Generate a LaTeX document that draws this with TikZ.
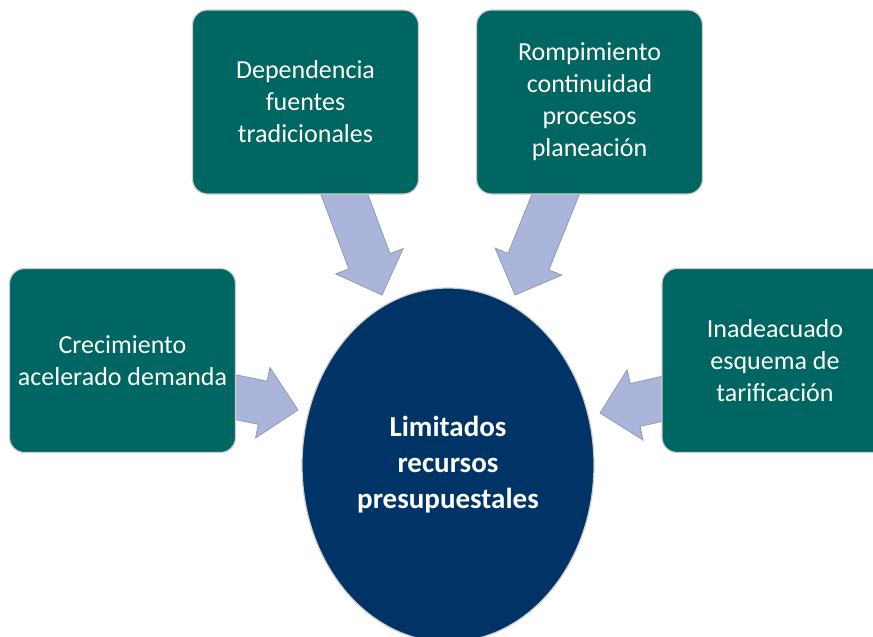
\documentclass[tikz,border=0pt]{standalone}
\usepackage{fontspec}
\setmainfont{Carlito}
\usetikzlibrary{calc,shapes.geometric}
\definecolor{causeteal}{RGB}{0,102,97}
\definecolor{centralnavy}{RGB}{0,51,102}
\definecolor{arrowfill}{RGB}{169,181,218}
\definecolor{arrowline}{RGB}{150,155,170}
\definecolor{boxline}{RGB}{205,205,205}
\tikzset{
  causebox/.style={draw=boxline,line width=1.2pt,fill=causeteal,rounded corners=15pt,
    minimum width=226pt,minimum height=184pt,align=center,text=white,
    font=\fontsize{26}{32}\selectfont},
  centralnode/.style={ellipse,draw=boxline,line width=1.2pt,fill=centralnavy,
    minimum width=292pt,minimum height=354pt,inner sep=0pt,align=center,text=white,
    font=\bfseries\fontsize{29}{36}\selectfont},
  blockarrow/.style={fill=arrowfill,draw=arrowline,line width=0.8pt,line join=miter}
}
% block arrow from tail #1 to tip #2
\newcommand{\causearrow}[2]{%
  \coordinate (hb) at ($(#2)!36pt!(#1)$);
  \draw[blockarrow] ($(#1)!22pt!90:(#2)$) -- ($(hb)!22pt!90:(#2)$) -- ($(hb)!36pt!90:(#2)$)
    -- (#2) -- ($(hb)!36pt!-90:(#2)$) -- ($(hb)!22pt!-90:(#2)$) -- ($(#1)!22pt!-90:(#2)$) -- cycle;
}
\begin{document}
\begin{tikzpicture}[x=1pt,y=-1pt]
\clip (0,0) rectangle (873,637);
\useasboundingbox (0,0) rectangle (873,637);
\fill[white] (0,0) rectangle (873,637);
% arrows first, tails hidden under the boxes
\coordinate (depTail) at (339,180);
\coordinate (depTip) at (382,295);
\coordinate (romTail) at (561,181);
\coordinate (romTip) at (515,295);
\coordinate (creTail) at (220,394);
\coordinate (creTip) at (298,410);
\coordinate (inaTail) at (679,395);
\coordinate (inaTip) at (600,413);
\causearrow{depTail}{depTip}
\causearrow{romTail}{romTip}
\causearrow{creTail}{creTip}
\causearrow{inaTail}{inaTip}
% cause boxes
\node[causebox] (dep) at (305.5,102) {Dependencia\\fuentes\\tradicionales};
\node[causebox] (rom) at (589.5,102) {Rompimiento\\continuidad\\procesos\\planeación};
\node[causebox] (cre) at (122.5,360.5) {Crecimiento\\acelerado demanda};
\node[causebox] (ina) at (775,360.5) {Inadeacuado\\esquema de\\tarificación};
% central problem
\node[centralnode] (lim) at (448,465) {Limitados\\recursos\\presupuestales};
\end{tikzpicture}
\end{document}
